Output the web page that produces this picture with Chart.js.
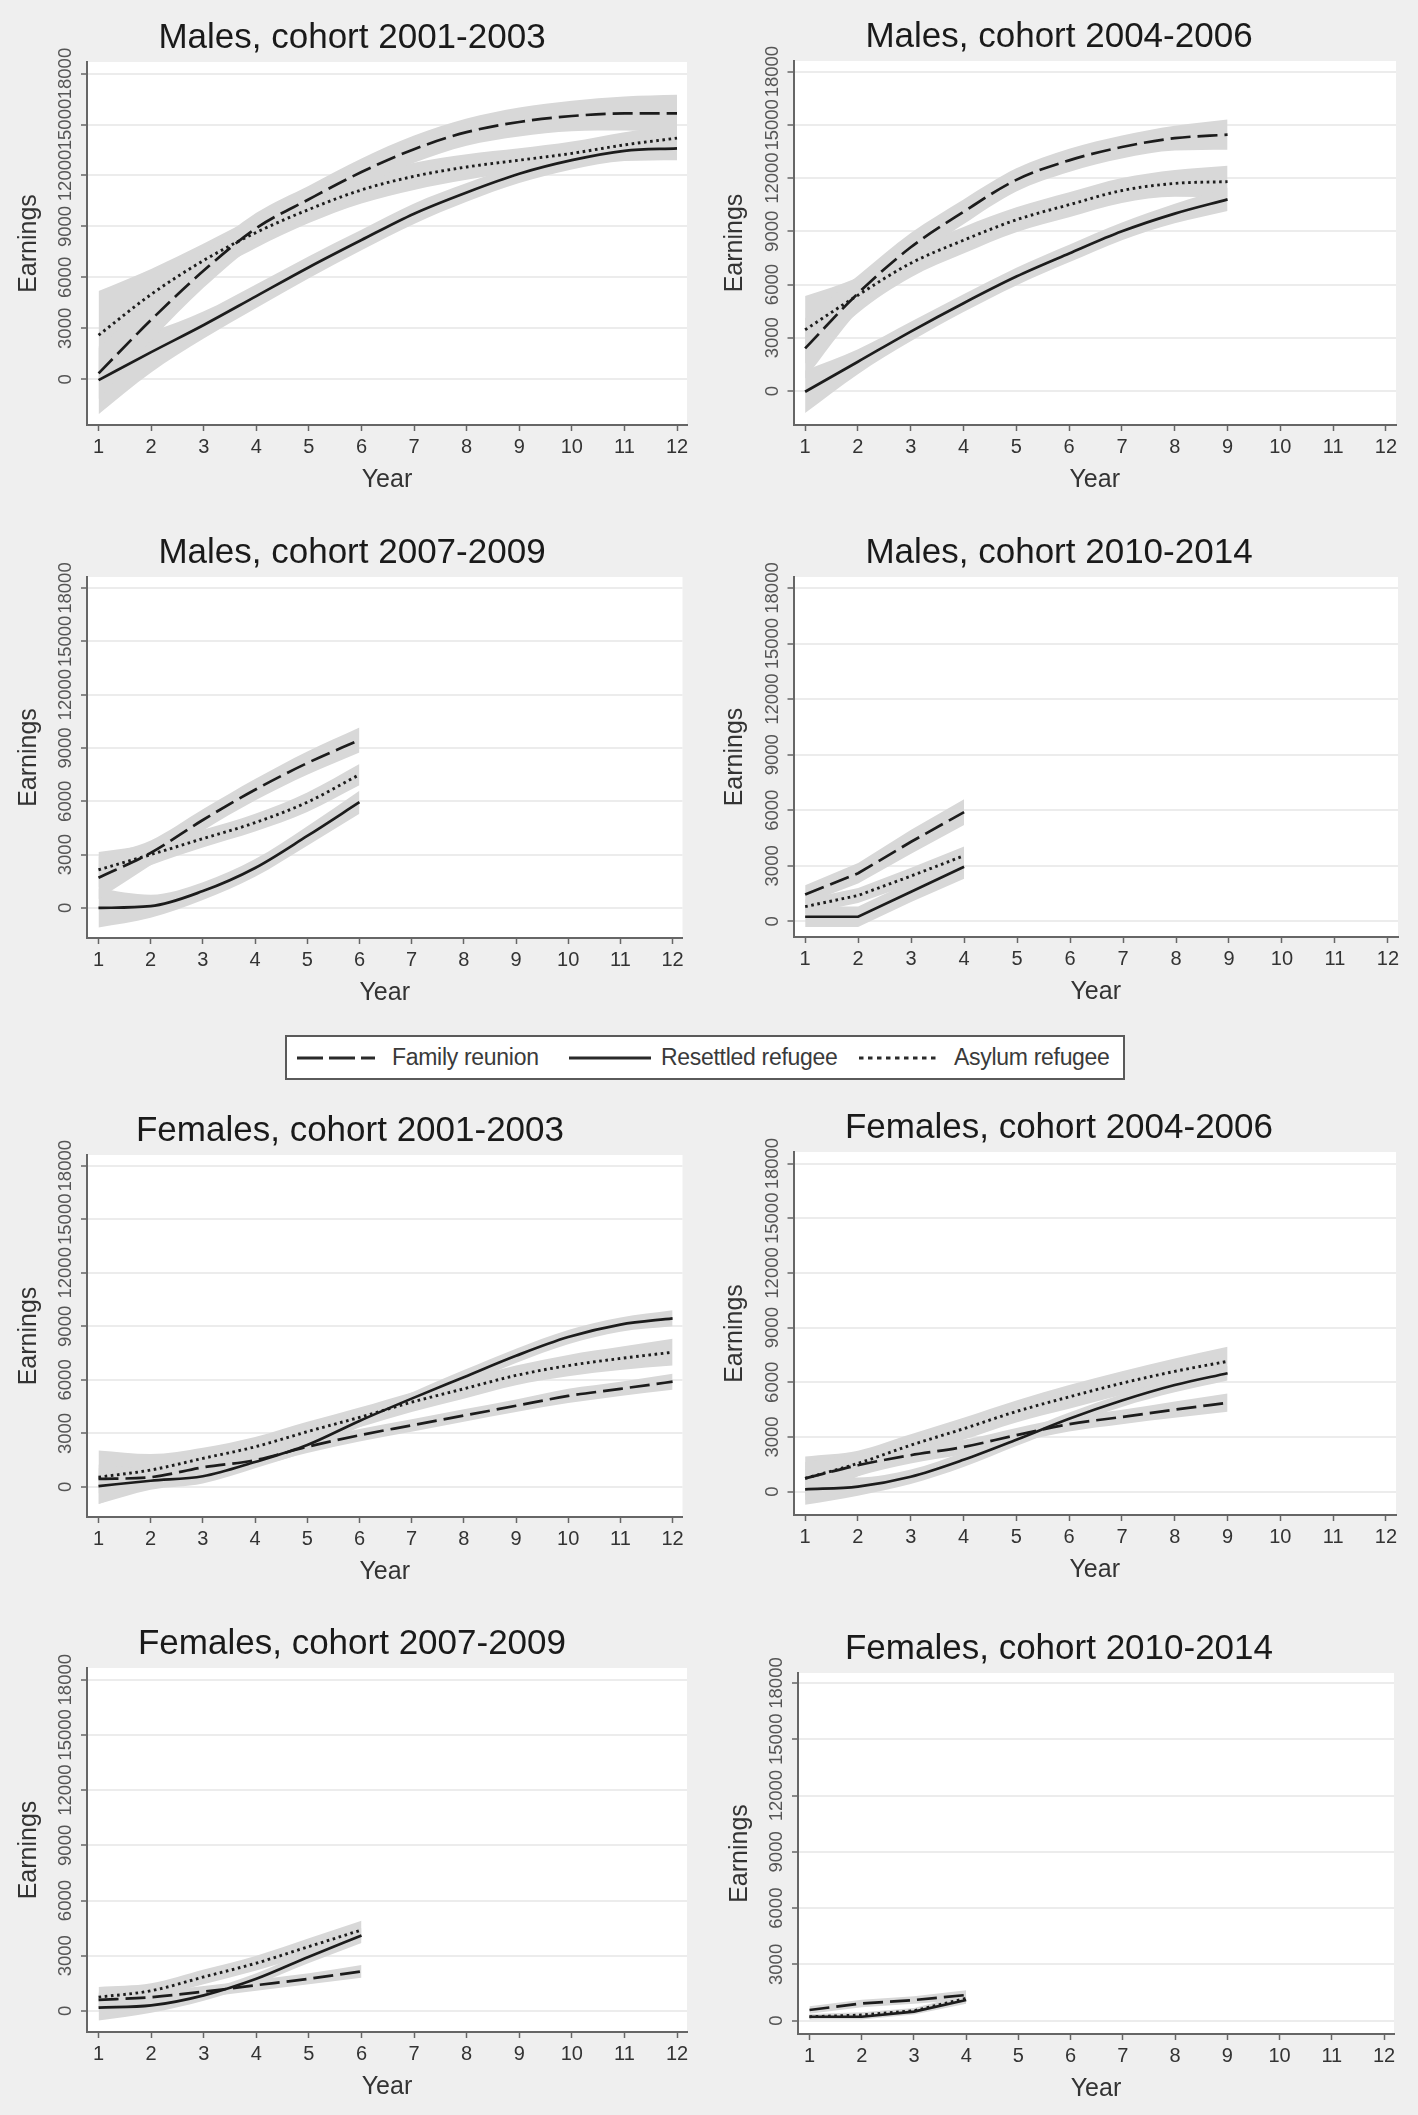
<!DOCTYPE html>
<html>
<head>
<meta charset="utf-8">
<script src="https://cdn.jsdelivr.net/npm/chart.js@4.4.1/dist/chart.umd.min.js"></script>
<style>
html,body{margin:0;padding:0;background:#efefef;}
#page{position:relative;width:1418px;height:2115px;overflow:hidden;background:#efefef;font-family:"Liberation Sans",Arial,sans-serif;}
#page canvas{position:absolute;}
#legend{position:absolute;left:285px;top:1035px;width:836px;height:41px;background:#fff;border:2px solid #5a5a5a;}
#legend .it{position:absolute;top:0;height:41px;line-height:41px;font-size:23px;color:#3a3a3a;white-space:nowrap;letter-spacing:-0.3px;}
#legend svg{position:absolute;top:0;}
</style>
</head>
<body>
<div id="page">
  <div id="legend"></div>
</div>
<script>
// ---------- shared categories / ticks ----------
const yearsAll = [1,2,3,4,5,6,7,8,9,10,11,12];
const xTickValues = [1,2,3,4,5,6,7,8,9,10,11,12];
const yTickValues = [0,3000,6000,9000,12000,15000,18000];
const seriesNames = ['Family reunion','Resettled refugee','Asylum refugee'];
const panelTitles = ['Males, cohort 2001-2003','Males, cohort 2004-2006','Males, cohort 2007-2009','Males, cohort 2010-2014',
                     'Females, cohort 2001-2003','Females, cohort 2004-2006','Females, cohort 2007-2009','Females, cohort 2010-2014'];
const xAxisTitle = 'Year';
const yAxisTitle = 'Earnings';

// ---------- Males 2001-2003 ----------
const m0103_family      = [350, 3500, 6400, 8900, 10600, 12200, 13550, 14550, 15150, 15500, 15650, 15650];
const m0103_family_ci   = [1500, 1200, 1000, 900, 800, 800, 800, 800, 850, 900, 1000, 1100];
const m0103_resettled   = [-50, 1600, 3200, 4900, 6600, 8200, 9750, 11000, 12100, 12900, 13450, 13600];
const m0103_resettled_ci= [2000, 1200, 800, 700, 650, 600, 600, 550, 550, 550, 600, 700];
const m0103_asylum      = [2600, 5000, 7000, 8650, 10000, 11150, 11950, 12500, 12900, 13300, 13800, 14200];
const m0103_asylum_ci   = [2600, 1500, 1000, 900, 800, 800, 800, 750, 700, 700, 750, 800];

// ---------- Males 2004-2006 ----------
const m0406_family      = [2400, 5500, 8100, 10100, 11900, 13000, 13750, 14250, 14450];
const m0406_family_ci   = [1700, 1000, 800, 700, 650, 650, 650, 700, 850];
const m0406_resettled   = [-40, 1650, 3350, 4950, 6450, 7750, 9000, 10000, 10800];
const m0406_resettled_ci= [1200, 700, 550, 500, 500, 500, 500, 550, 650];
const m0406_asylum      = [3450, 5400, 7200, 8500, 9650, 10500, 11300, 11700, 11800];
const m0406_asylum_ci   = [1900, 1000, 800, 750, 700, 700, 700, 750, 900];

// ---------- Males 2007-2009 ----------
const m0709_family      = [1700, 3100, 4950, 6650, 8150, 9450];
const m0709_family_ci   = [1200, 700, 600, 600, 650, 700];
const m0709_resettled   = [0, 100, 950, 2250, 4050, 5950];
const m0709_resettled_ci= [1100, 650, 500, 500, 550, 650];
const m0709_asylum      = [2150, 3000, 3900, 4800, 5950, 7500];
const m0709_asylum_ci   = [1000, 600, 500, 500, 550, 600];

// ---------- Males 2010-2014 ----------
const m1014_family      = [1450, 2600, 4300, 5900];
const m1014_family_ci   = [500, 550, 650, 700];
const m1014_resettled   = [250, 250, 1600, 2950];
const m1014_resettled_ci= [550, 550, 550, 650];
const m1014_asylum      = [800, 1400, 2450, 3550];
const m1014_asylum_ci   = [400, 400, 450, 500];

// ---------- Females 2001-2003 ----------
const f0103_family      = [450, 550, 1100, 1500, 2250, 2900, 3450, 4000, 4550, 5100, 5500, 5900];
const f0103_family_ci   = [800, 500, 400, 350, 350, 350, 350, 350, 350, 400, 400, 450];
const f0103_resettled   = [50, 350, 600, 1400, 2350, 3700, 4950, 6150, 7350, 8400, 9100, 9450];
const f0103_resettled_ci= [1000, 500, 400, 350, 350, 350, 350, 400, 400, 400, 400, 450];
const f0103_asylum      = [550, 950, 1600, 2250, 3100, 3900, 4750, 5500, 6250, 6800, 7200, 7550];
const f0103_asylum_ci   = [1500, 900, 600, 550, 550, 550, 550, 550, 550, 600, 650, 750];

// ---------- Females 2004-2006 ----------
const f0406_family      = [730, 1450, 2000, 2450, 3100, 3700, 4100, 4500, 4880];
const f0406_family_ci   = [900, 600, 450, 400, 400, 400, 400, 450, 500];
const f0406_resettled   = [130, 280, 820, 1750, 2850, 4000, 5000, 5850, 6500];
const f0406_resettled_ci= [850, 500, 400, 400, 350, 350, 350, 400, 400];
const f0406_asylum      = [730, 1550, 2550, 3450, 4400, 5200, 5950, 6600, 7150];
const f0406_asylum_ci   = [1200, 700, 600, 600, 600, 650, 650, 700, 800];

// ---------- Females 2007-2009 ----------
const f0709_family      = [600, 750, 1050, 1400, 1750, 2150];
const f0709_family_ci   = [400, 300, 300, 300, 300, 350];
const f0709_resettled   = [180, 300, 850, 1750, 2950, 4100];
const f0709_resettled_ci= [700, 400, 300, 300, 350, 400];
const f0709_asylum      = [750, 1100, 1850, 2600, 3500, 4400];
const f0709_asylum_ci   = [550, 400, 400, 400, 450, 500];

// ---------- Females 2010-2014 ----------
const f1014_family      = [570, 920, 1100, 1370];
const f1014_family_ci   = [200, 200, 200, 250];
const f1014_resettled   = [210, 210, 480, 1100];
const f1014_resettled_ci= [150, 150, 150, 200];
const f1014_asylum      = [210, 300, 530, 1190];
const f1014_asylum_ci   = [150, 150, 150, 200];

const panelData = [
  [m0103_family, m0103_family_ci, m0103_resettled, m0103_resettled_ci, m0103_asylum, m0103_asylum_ci],
  [m0406_family, m0406_family_ci, m0406_resettled, m0406_resettled_ci, m0406_asylum, m0406_asylum_ci],
  [m0709_family, m0709_family_ci, m0709_resettled, m0709_resettled_ci, m0709_asylum, m0709_asylum_ci],
  [m1014_family, m1014_family_ci, m1014_resettled, m1014_resettled_ci, m1014_asylum, m1014_asylum_ci],
  [f0103_family, f0103_family_ci, f0103_resettled, f0103_resettled_ci, f0103_asylum, f0103_asylum_ci],
  [f0406_family, f0406_family_ci, f0406_resettled, f0406_resettled_ci, f0406_asylum, f0406_asylum_ci],
  [f0709_family, f0709_family_ci, f0709_resettled, f0709_resettled_ci, f0709_asylum, f0709_asylum_ci],
  [f1014_family, f1014_family_ci, f1014_resettled, f1014_resettled_ci, f1014_asylum, f1014_asylum_ci]
];

// ---------- layout (positions / axis ranges) ----------
const layouts = [
 {cx:0,   cy:0,    ch:520, L:87,    R:687,  T:62,   B:425,  yMin:-2690, yMax:18680, tx:352},
 {cx:709, cy:0,    ch:520, L:793.5, R:1396, T:61,   B:425,  yMin:-1916, yMax:18600, tx:350},
 {cx:0,   cy:520,  ch:500, L:87,    R:682.5,T:577,  B:938,  yMin:-1690, yMax:18620, tx:352},
 {cx:709, cy:520,  ch:500, L:793.5, R:1398, T:577,  B:937,  yMin:-842,  yMax:18594, tx:350},
 {cx:0,   cy:1100, ch:500, L:87,    R:682.5,T:1155, B:1517, yMin:-1682, yMax:18600, tx:350},
 {cx:709, cy:1100, ch:500, L:793.5, R:1396, T:1152, B:1515, yMin:-1280, yMax:18636, tx:350},
 {cx:0,   cy:1600, ch:515, L:87,    R:687,  T:1668, B:2032, yMin:-1143, yMax:18637, tx:352},
 {cx:709, cy:1600, ch:515, L:798,   R:1394, T:1673, B:2034, yMin:-710,  yMax:18534, tx:350}
];
const CW = 709, YW = 40, XH = 30;
const FONT = '"Liberation Sans", Arial, sans-serif';
const LINE = '#1c1c1c', BAND = '#d8d8d8', AXIS = '#666666';
const styles = [
  {dash:[20,7], width:2.7},
  {dash:[],     width:2.7},
  {dash:[2.6,3.6], width:2.9}
];

Chart.defaults.font.family = FONT;

const decor = {
  id: 'decor',
  beforeDraw(chart) {
    const {ctx, chartArea: a} = chart;
    ctx.save();
    ctx.fillStyle = '#ffffff';
    ctx.fillRect(a.left, a.top, a.right - a.left, a.bottom - a.top);
    ctx.restore();
  },
  afterDraw(chart, args, opts) {
    const {ctx, chartArea: a} = chart;
    const ys = chart.scales.y;
    ctx.save();
    // rotated y tick labels
    ctx.fillStyle = '#555555';
    ctx.font = '18.5px ' + FONT;
    ctx.textAlign = 'center';
    ctx.textBaseline = 'middle';
    ys.ticks.forEach(t => {
      const py = ys.getPixelForValue(t.value);
      ctx.save();
      ctx.translate(a.left - 21, py);
      ctx.rotate(-Math.PI / 2);
      ctx.fillText(String(t.value), 0, 0);
      ctx.restore();
    });
    // y axis title
    ctx.fillStyle = '#333333';
    ctx.font = '25px ' + FONT;
    ctx.save();
    ctx.translate(a.left - 58, (a.top + a.bottom) / 2);
    ctx.rotate(-Math.PI / 2);
    ctx.fillText(yAxisTitle, 0, 0);
    ctx.restore();
    // x axis title
    ctx.fillText(xAxisTitle, (a.left + a.right) / 2, a.bottom + 55);
    // panel title
    ctx.fillStyle = '#1a1a1a';
    ctx.font = '35px ' + FONT;
    ctx.fillText(opts.title, opts.tx, a.top - 24);
    ctx.restore();
  }
};

const page = document.getElementById('page');

panelData.forEach((arrs, p) => {
  const lay = layouts[p];
  const n = arrs[0].length;
  const xs = yearsAll.slice(0, n);
  const smooth = n > 4;
  const tension = smooth ? 0.4 : 0;
  const interp = smooth ? 'monotone' : 'default';
  const datasets = [];
  for (let s = 0; s < 3; s++) {
    const vals = arrs[s * 2], ci = arrs[s * 2 + 1];
    datasets.push({
      data: xs.map((x, i) => ({x, y: vals[i] + ci[i]})),
      borderWidth: 0, pointRadius: 0, fill: false, backgroundColor: BAND,
      borderColor: 'rgba(0,0,0,0)', tension, cubicInterpolationMode: interp, order: 2
    });
    datasets.push({
      data: xs.map((x, i) => ({x, y: vals[i] - ci[i]})),
      borderWidth: 0, pointRadius: 0, fill: '-1', backgroundColor: BAND,
      borderColor: 'rgba(0,0,0,0)', tension, cubicInterpolationMode: interp, order: 2
    });
  }
  for (let s = 0; s < 3; s++) {
    const vals = arrs[s * 2];
    datasets.push({
      label: seriesNames[s],
      data: xs.map((x, i) => ({x, y: vals[i]})),
      borderColor: LINE, borderWidth: styles[s].width, borderDash: styles[s].dash,
      pointRadius: 0, fill: false, tension, cubicInterpolationMode: interp, order: 1
    });
  }

  const cv = document.createElement('canvas');
  cv.width = CW; cv.height = lay.ch;
  cv.style.left = lay.cx + 'px'; cv.style.top = lay.cy + 'px';
  cv.style.width = CW + 'px'; cv.style.height = lay.ch + 'px';
  page.appendChild(cv);

  new Chart(cv, {
    type: 'line',
    data: {datasets},
    options: {
      responsive: false, animation: false, devicePixelRatio: 1,
      layout: {padding: {
        left: lay.L - lay.cx - YW,
        right: lay.cx + CW - lay.R,
        top: lay.T - lay.cy,
        bottom: lay.cy + lay.ch - lay.B - XH
      }},
      plugins: {legend: {display: false}, tooltip: {enabled: false}, title: {display: false},
                decor: {title: panelTitles[p], tx: lay.tx}},
      scales: {
        x: {
          type: 'linear', min: 0.78, max: 12.19,
          afterBuildTicks: sc => { sc.ticks = xTickValues.map(v => ({value: v})); },
          afterFit: sc => { sc.height = XH; },
          ticks: {color: '#333333', font: {size: 20}, padding: 4, autoSkip: false, maxRotation: 0, minRotation: 0},
          grid: {drawOnChartArea: false, drawTicks: true, tickLength: 6, tickColor: AXIS, tickWidth: 1.5},
          border: {display: true, color: AXIS, width: 2}
        },
        y: {
          type: 'linear', min: lay.yMin, max: lay.yMax,
          afterBuildTicks: sc => { sc.ticks = yTickValues.map(v => ({value: v})); },
          afterFit: sc => { sc.width = YW; },
          ticks: {display: false},
          grid: {color: '#ececec', lineWidth: 2, drawTicks: true, tickLength: 6, tickColor: AXIS, tickWidth: 1.5},
          border: {display: true, color: AXIS, width: 2}
        }
      }
    },
    plugins: [decor]
  });
});

// ---------- legend ----------
const legend = document.getElementById('legend');
const legendItems = [
  {sx: 10, sw: 78, tx: 105, dash: '26,6', w: 3},
  {sx: 282, sw: 82, tx: 374, dash: '', w: 3},
  {sx: 572, sw: 80, tx: 667, dash: '4.5,4.5', w: 3}
];
legendItems.forEach((it, i) => {
  const svgNS = 'http://www.w3.org/2000/svg';
  const svg = document.createElementNS(svgNS, 'svg');
  svg.setAttribute('width', it.sw); svg.setAttribute('height', 41);
  svg.style.left = it.sx + 'px';
  const ln = document.createElementNS(svgNS, 'line');
  ln.setAttribute('x1', 0); ln.setAttribute('x2', it.sw);
  ln.setAttribute('y1', 21); ln.setAttribute('y2', 21);
  ln.setAttribute('stroke', '#2a2a2a'); ln.setAttribute('stroke-width', it.w);
  if (it.dash) ln.setAttribute('stroke-dasharray', it.dash);
  svg.appendChild(ln);
  legend.appendChild(svg);
  const sp = document.createElement('span');
  sp.className = 'it'; sp.style.left = it.tx + 'px';
  sp.textContent = seriesNames[i];
  legend.appendChild(sp);
});
</script>
</body>
</html>
